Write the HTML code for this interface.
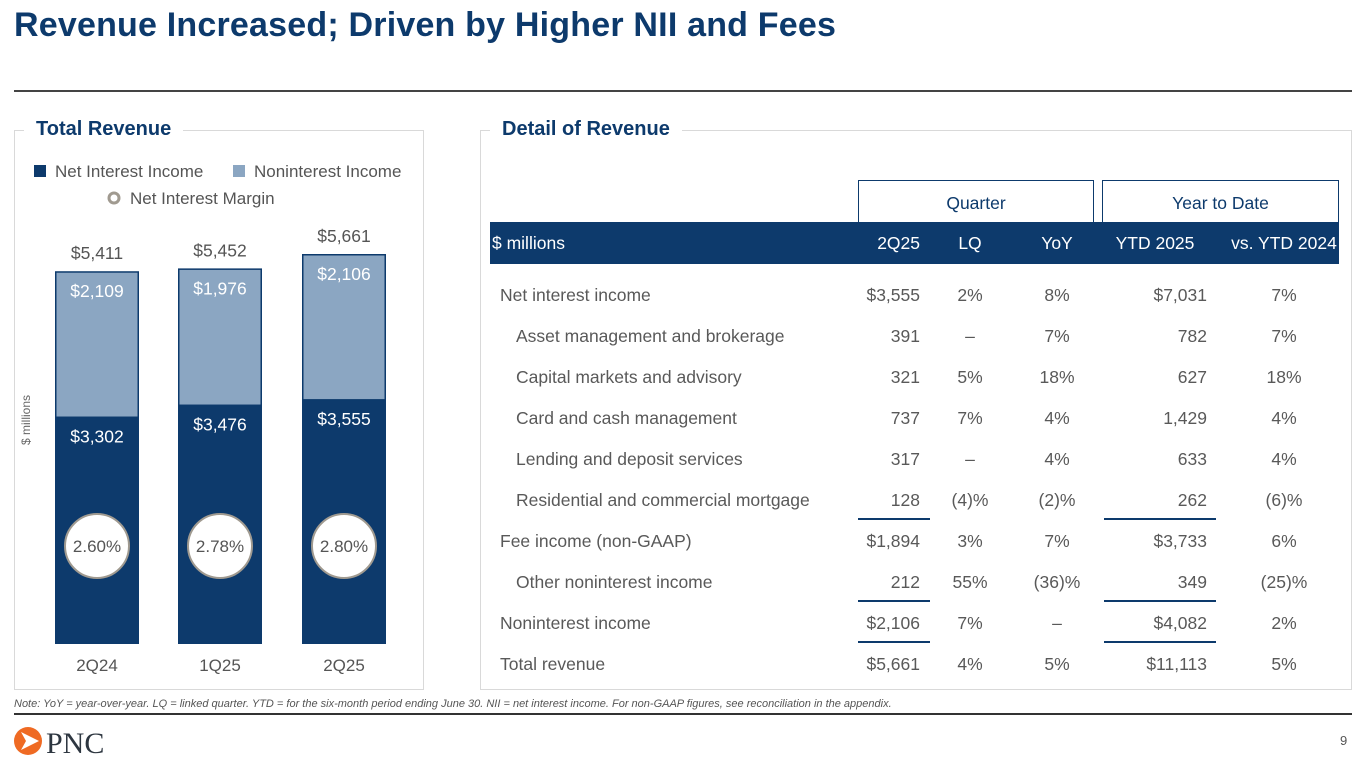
<!DOCTYPE html>
<html><head><meta charset="utf-8">
<style>
*{margin:0;padding:0;box-sizing:border-box}
body{width:1365px;height:768px;background:#fff;font-family:"Liberation Sans",sans-serif;position:relative;overflow:hidden;color:#555}
.abs{position:absolute}
.title{left:14px;top:6px;font-size:34px;font-weight:bold;color:#0d3a6c;letter-spacing:0.2px}
.panel{border:1.5px solid #d9d9d9}
.ptitle{font-size:20px;font-weight:bold;color:#0d3a6c;background:#fff;padding:0 12px;top:118px}
.cell{position:absolute;font-size:17.5px;color:#595959;white-space:nowrap}
.r{text-align:right}
.c{text-align:center}
.ul{position:absolute;height:1.5px;background:#0d3a6c}
</style></head><body>
<div class="abs title">Revenue Increased; Driven by Higher NII and Fees</div>
<div class="abs" style="left:14px;top:90px;width:1338px;height:2px;background:#444"></div>

<div class="abs panel" style="left:14px;top:130px;width:410px;height:560px"></div>
<div class="abs ptitle" style="left:24px">Total Revenue</div>
<div class="abs panel" style="left:480px;top:130px;width:872px;height:560px"></div>
<div class="abs ptitle" style="left:490px">Detail of Revenue</div>

<svg class="abs" style="left:0;top:0" width="480" height="690" id="chart"></svg>

<div id="table"></div>

<div class="abs" style="left:14px;top:698px;font-size:11px;font-style:italic;color:#555">Note: YoY = year-over-year. LQ = linked quarter. YTD = for the six-month period ending June 30. NII = net interest income. For non-GAAP figures, see reconciliation in the appendix.</div>
<div class="abs" style="left:14px;top:713px;width:1338px;height:1.5px;background:#333"></div>
<svg class="abs" style="left:12px;top:724px" width="110" height="36">
<circle cx="16" cy="17" r="14" fill="#ef6a23"/>
<path d="M9 8 L27 17 L9 26 L14 17 Z" fill="#fff"/>
<text x="34" y="29" font-family="Liberation Serif,serif" font-size="30" fill="#2d3640">PNC</text>
</svg>
<div class="abs" style="left:1340px;top:733px;font-size:13px;color:#555">9</div>

<script>
const categories=["2Q24","1Q25","2Q25"];
const nii=[3302,3476,3555];
const nonii=[2109,1976,2106];
const nim=["2.60%","2.78%","2.80%"];
const totals=["$5,411","$5,452","$5,661"];
const NS="http://www.w3.org/2000/svg";
const svg=document.getElementById('chart');
const base=644, k=390/5661;
const xLeft=[55,178,302], bw=84;
const y=v=>base-v*k;
function mk(t,a,txt){const e=document.createElementNS(NS,t);for(const p in a)e.setAttribute(p,a[p]);if(txt!==undefined)e.textContent=txt;svg.appendChild(e);return e;}
const fmt=v=>"$"+v.toLocaleString("en-US");
let e;
e=mk('rect',{x:34,y:165,width:12,height:12,fill:'#0d3a6c'});

e=mk('text',{x:55,y:177,'font-size':17,fill:'#555'},'Net Interest Income');

e=mk('rect',{x:233,y:165,width:12,height:12,fill:'#8ba6c2'});

e=mk('text',{x:254,y:177,'font-size':17,fill:'#555'},'Noninterest Income');

e=mk('circle',{cx:114,cy:198,r:5,fill:'none',stroke:'#a09a90','stroke-width':3});

e=mk('text',{x:130,y:204,'font-size':17,fill:'#555'},'Net Interest Margin');

e=mk('text',{x:30,y:420,'font-size':12,fill:'#666','text-anchor':'middle',transform:'rotate(-90 30 420)'},'$ millions');

categories.forEach((c,i)=>{
  const x=xLeft[i],cx=x+bw/2,yn=y(nii[i]),yt=y(nii[i]+nonii[i]);
  e=mk('rect',{x:x,y:yn,width:bw,height:base-yn,fill:'#0d3a6c'});
  
  e=mk('rect',{x:x+0.75,y:yt+0.75,width:bw-1.5,height:yn-yt,fill:'#8ba6c2',stroke:'#0d3a6c','stroke-width':1.5});
  
  e=mk('text',{x:cx,y:yt-12,'font-size':17.5,fill:'#555','text-anchor':'middle'},totals[i]);
  
  e=mk('text',{x:cx,y:yt+26,'font-size':17.5,fill:'#fff','text-anchor':'middle'},fmt(nonii[i]));
  
  e=mk('text',{x:cx,y:yn+26,'font-size':17.5,fill:'#fff','text-anchor':'middle'},fmt(nii[i]));
  
  e=mk('circle',{cx:cx,cy:546,r:32,fill:'#fff',stroke:'#a09a90','stroke-width':2});
  
  e=mk('text',{x:cx,y:552,'font-size':17,fill:'#555','text-anchor':'middle'},nim[i]);
  
  e=mk('text',{x:cx,y:671,'font-size':17,fill:'#555','text-anchor':'middle'},c);
  
});

const rowLabels=["Net interest income","Asset management and brokerage","Capital markets and advisory","Card and cash management","Lending and deposit services","Residential and commercial mortgage","Fee income (non-GAAP)","Other noninterest income","Noninterest income","Total revenue"];
const indent=[0,1,1,1,1,1,0,1,0,0];
const q25=["$3,555","391","321","737","317","128","$1,894","212","$2,106","$5,661"];
const lq=["2%","–","5%","7%","–","(4)%","3%","55%","7%","4%"];
const yoy=["8%","7%","18%","4%","4%","(2)%","7%","(36)%","–","5%"];
const ytd=["$7,031","782","627","1,429","633","262","$3,733","349","$4,082","$11,113"];
const vsytd=["7%","7%","18%","4%","4%","(6)%","6%","(25)%","2%","5%"];
const T=document.getElementById('table');
function add(html,style,cls,name){const d=document.createElement('div');d.className=cls||'abs';d.style.cssText=style;d.innerHTML=html;


T.appendChild(d);return d;}
add('Quarter','left:858px;top:180px;width:236px;height:42px;border:1.5px solid #0d3a6c;border-bottom:none;text-align:center;line-height:44px;font-size:17.5px;color:#0d3a6c','abs','quarter-header');
add('Year to Date','left:1102px;top:180px;width:237px;height:42px;border:1.5px solid #0d3a6c;border-bottom:none;text-align:center;line-height:44px;font-size:17.5px;color:#0d3a6c','abs','ytd-header');
add('','left:490px;top:222px;width:849px;height:42px;background:#0d3a6c','abs','header-row');
const hy=233;
add('$ millions','left:492px;top:'+hy+'px;color:#fff','cell','col-header-label');
add('2Q25','left:820px;width:100px;top:'+hy+'px;color:#fff','cell r','col-header-2q25');
add('LQ','left:930px;width:80px;top:'+hy+'px;color:#fff','cell c','col-header-lq');
add('YoY','left:1017px;width:80px;top:'+hy+'px;color:#fff','cell c','col-header-yoy');
add('YTD 2025','left:1100px;width:110px;top:'+hy+'px;color:#fff','cell c','col-header-ytd2025');
add('vs. YTD 2024','left:1228px;width:112px;top:'+hy+'px;color:#fff','cell c','col-header-vsytd2024');
rowLabels.forEach((l,i)=>{
  const t=285+i*41;
  add(l,'left:'+(indent[i]?516:500)+'px;top:'+t+'px','cell','row-label-'+i);
  add(q25[i],'left:820px;width:100px;top:'+t+'px','cell r','row-2q25-'+i);
  add(lq[i],'left:930px;width:80px;top:'+t+'px','cell c','row-lq-'+i);
  add(yoy[i],'left:1017px;width:80px;top:'+t+'px','cell c','row-yoy-'+i);
  add(ytd[i],'left:1100px;width:107px;top:'+t+'px','cell r','row-ytd-'+i);
  add(vsytd[i],'left:1244px;width:80px;top:'+t+'px','cell c','row-vsytd-'+i);
});
[518,600,641].forEach((yy,j)=>{
  add('','left:858px;top:'+yy+'px;width:72px','ul','subtotal-rule-q-'+j);
  add('','left:1104px;top:'+yy+'px;width:112px','ul','subtotal-rule-ytd-'+j);
});
</script>
</body></html>
